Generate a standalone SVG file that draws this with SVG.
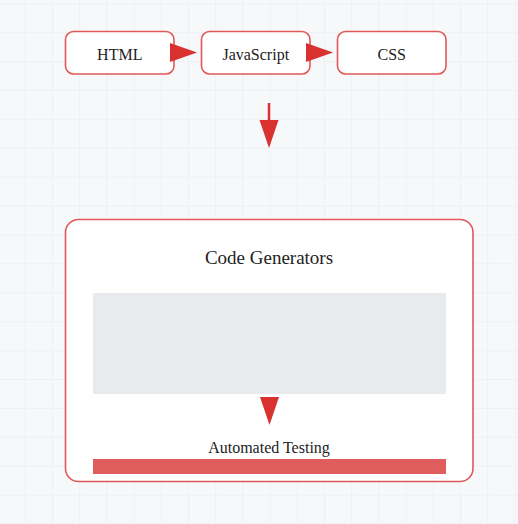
<svg xmlns="http://www.w3.org/2000/svg" width="518" height="524" viewBox="0 0 518 524">
  <defs>
    <pattern id="grid" x="24.8" y="3.3" width="27.2" height="28.9" patternUnits="userSpaceOnUse">
      <path d="M0 0 V28.9 M0 0 H27.2" fill="none" stroke="#eceef2" stroke-width="1.5"/>
    </pattern>
    <style>
      .box { fill: #ffffff; stroke: #e05858; stroke-width: 1.6; }
      .lbl { font-family: "Liberation Serif", "Times New Roman", serif; fill: #232323; text-anchor: middle; }
      .arrow { fill: #d93030; }
      .shaft { stroke: #d93030; stroke-width: 2.5; fill: none; }
    </style>
  </defs>
  <rect width="518" height="524" fill="#f7f8fa"/>
  <rect width="518" height="524" fill="url(#grid)"/>

  <g id="html">
    <rect class="box" x="65.5" y="31.5" width="108.5" height="42.5" rx="8"/>
    <text class="lbl" x="119.75" y="60" font-size="16">HTML</text>
  </g>
  <g id="javascript">
    <rect class="box" x="201.5" y="31.5" width="108.5" height="42.5" rx="8"/>
    <text class="lbl" x="255.75" y="60" font-size="16">JavaScript</text>
  </g>
  <g id="css">
    <rect class="box" x="337.5" y="31.5" width="108.5" height="42.5" rx="8"/>
    <text class="lbl" x="391.75" y="60" font-size="16">CSS</text>
  </g>

  <g id="code-generators">
    <rect class="box" x="65.5" y="219.5" width="407.5" height="262" rx="13"/>
    <text class="lbl" x="269" y="264" font-size="19">Code Generators</text>
    <rect x="93" y="293" width="353" height="101" fill="#e9eaed"/>
    <text class="lbl" x="269" y="453" font-size="16">Automated Testing</text>
    <rect x="93" y="459" width="353" height="15" fill="#e05d5d"/>
  </g>

  <g id="connectors">
    <polygon class="arrow" points="170,43 197,52.5 170,62"/>
    <polygon class="arrow" points="306,43 333,52.5 306,62"/>
    <line class="shaft" x1="269" y1="103" x2="269" y2="122"/>
    <polygon class="arrow" points="259.5,120 278.5,120 269,148"/>
    <polygon class="arrow" points="260,397 279,397 269.5,425"/>
  </g>
</svg>
